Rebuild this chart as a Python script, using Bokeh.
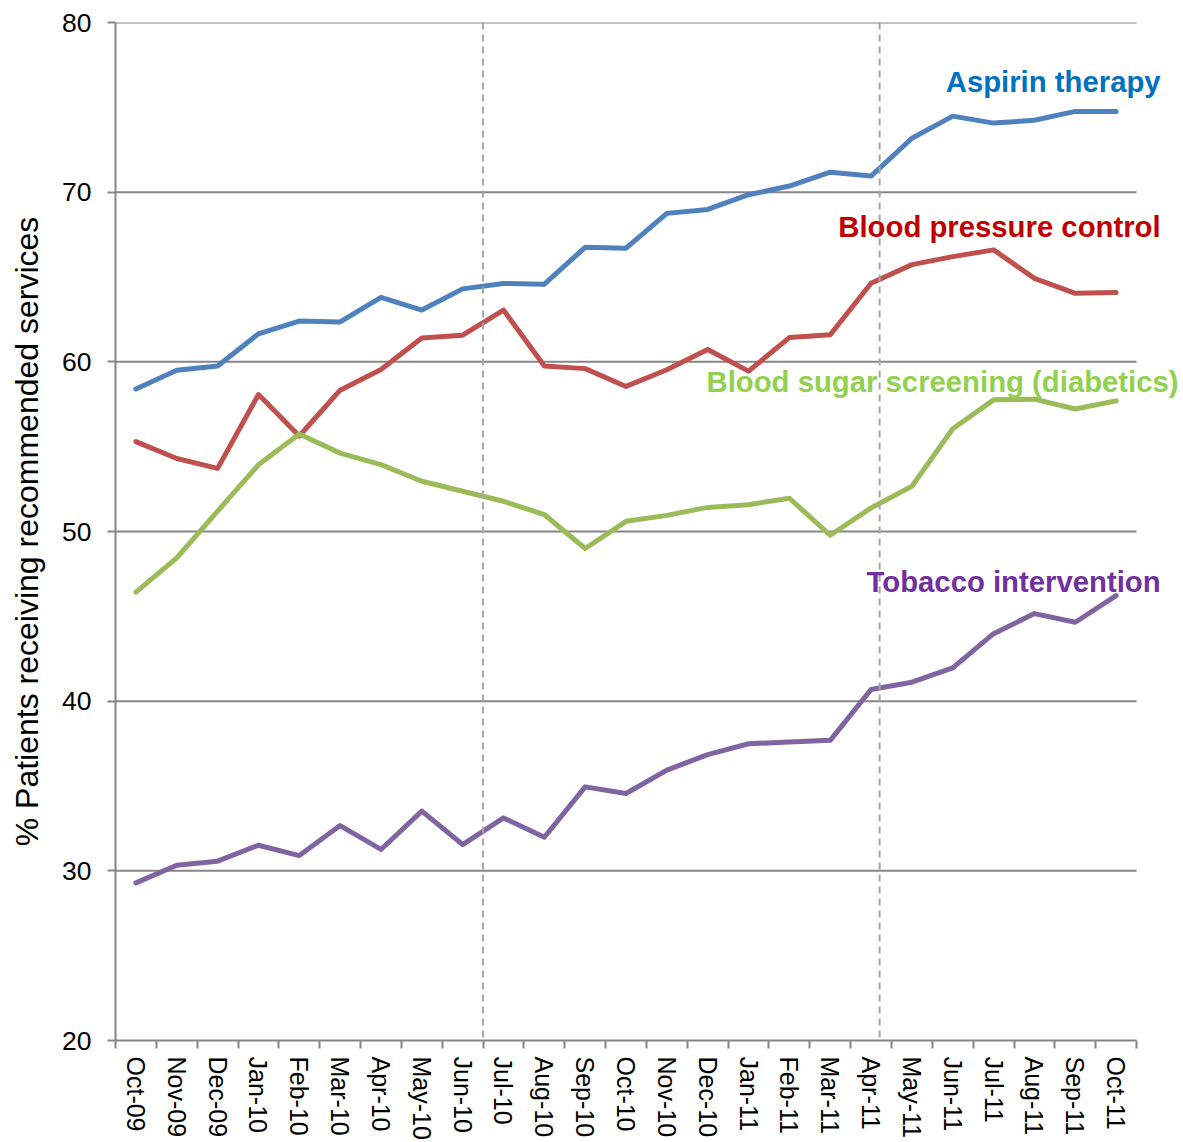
from bokeh.plotting import figure
from bokeh.models import FixedTicker, Span, Label, Range1d
from bokeh.embed import file_html
from bokeh.resources import INLINE

months = ["Oct-09", "Nov-09", "Dec-09", "Jan-10", "Feb-10", "Mar-10", "Apr-10", "May-10",
          "Jun-10", "Jul-10", "Aug-10", "Sep-10", "Oct-10", "Nov-10", "Dec-10", "Jan-11",
          "Feb-11", "Mar-11", "Apr-11", "May-11", "Jun-11", "Jul-11", "Aug-11", "Sep-11", "Oct-11"]

aspirin = [58.4, 59.5, 59.75, 61.65, 62.4, 62.35, 63.8, 63.05, 64.3, 64.62, 64.58, 66.75, 66.7,
           68.75, 68.98, 69.85, 70.36, 71.18, 70.95, 73.18, 74.48, 74.07, 74.24, 74.76, 74.76]
blood_pressure = [55.3, 54.3, 53.72, 58.07, 55.63, 58.33, 59.55, 61.41, 61.57, 63.05, 59.76, 59.6,
                  58.55, 59.53, 60.73, 59.45, 61.43, 61.6, 64.63, 65.73, 66.2, 66.6, 64.92, 64.04, 64.08]
blood_sugar = [46.43, 48.45, 51.2, 53.93, 55.75, 54.62, 53.94, 52.96, 52.37, 51.78, 51.0, 49.0,
               50.6, 50.95, 51.42, 51.58, 51.96, 49.78, 51.39, 52.67, 56.06, 57.76, 57.8, 57.22, 57.7]
tobacco = [29.29, 30.33, 30.57, 31.51, 30.9, 32.67, 31.26, 33.52, 31.55, 33.12, 31.98, 34.95,
           34.56, 35.94, 36.85, 37.49, 37.59, 37.69, 40.69, 41.12, 41.96, 43.98, 45.16, 44.65, 46.22]

series_names = ["Aspirin therapy", "Blood pressure control",
                "Blood sugar screening (diabetics)", "Tobacco intervention"]
y_ticks = [20, 30, 40, 50, 60, 70, 80]
y_label = "% Patients receiving recommended services"
# positions of the dashed reference lines, in month-index units
marker_positions = [9.0, 18.71]

FONT = "Liberation Sans"
GRAY = "#868686"

n = len(months)
xs = [i + 0.5 for i in range(n)]

# frame extends to the right of the last month so the series labels are not clipped
p = figure(width=1183, height=1142, output_backend="svg", toolbar_location=None,
           x_range=Range1d(0, 26.15), y_range=Range1d(20, 80),
           min_border_left=115, min_border_right=0, min_border_top=22, min_border_bottom=100)
p.outline_line_color = None
p.background_fill_color = "white"
p.border_fill_color = "white"

# horizontal grid lines, stopping at the last month boundary
p.xgrid.grid_line_color = None
p.ygrid.grid_line_color = None
grid_y = [t for t in y_ticks if t != y_ticks[0]]
p.segment(x0=[0] * len(grid_y), x1=[n] * len(grid_y), y0=grid_y, y1=grid_y,
          line_color=GRAY, line_width=2)

# y axis
p.yaxis.ticker = FixedTicker(ticks=y_ticks)
p.yaxis.axis_line_color = GRAY
p.yaxis.axis_line_width = 2
p.yaxis.major_tick_line_color = GRAY
p.yaxis.major_tick_line_width = 2
p.yaxis.major_tick_out = 8
p.yaxis.major_tick_in = 0
p.yaxis.minor_tick_line_color = None
p.yaxis.major_label_text_font = FONT
p.yaxis.major_label_text_font_size = "26.5px"
p.yaxis.major_label_text_color = "black"
p.yaxis.major_label_standoff = 16
p.yaxis.axis_label = y_label
p.yaxis.axis_label_text_font = FONT
p.yaxis.axis_label_text_font_size = "32px"
p.yaxis.axis_label_text_font_style = "normal"
p.yaxis.axis_label_text_color = "black"
p.yaxis.axis_label_standoff = 14

# x axis
p.xaxis.bounds = (0, n)
p.xaxis.ticker = FixedTicker(ticks=xs, minor_ticks=list(range(n + 1)))
p.xaxis.major_label_overrides = {x: m for x, m in zip(xs, months)}
p.xaxis.major_label_orientation = "vertical"
p.xaxis.axis_line_color = GRAY
p.xaxis.axis_line_width = 2
p.xaxis.major_tick_line_color = None
p.xaxis.major_tick_out = 0
p.xaxis.major_tick_in = 0
p.xaxis.minor_tick_line_color = GRAY
p.xaxis.minor_tick_line_width = 2
p.xaxis.minor_tick_out = 8
p.xaxis.minor_tick_in = 0
p.xaxis.major_label_text_font = FONT
p.xaxis.major_label_text_font_size = "25px"
p.xaxis.major_label_text_color = "black"
p.xaxis.major_label_standoff = 8

# dashed reference lines
for loc in marker_positions:
    p.add_layout(Span(location=loc, dimension="height", line_color="#A6A6A6",
                      line_width=2, line_dash="7 5"))

line_colors = ["#4F81BD", "#C0504D", "#9BBB59", "#8064A2"]
label_colors = ["#0070C0", "#C00000", "#92D050", "#7030A0"]
label_pos = [(25.59, 76.55), (25.59, 67.95), (26.03, 58.85), (25.59, 47.05)]

for vals, lc in zip([aspirin, blood_pressure, blood_sugar, tobacco], line_colors):
    p.line(xs, vals, line_color=lc, line_width=5, line_cap="round", line_join="round")

for name, tc, (lx, ly) in zip(series_names, label_colors, label_pos):
    p.add_layout(Label(x=lx, y=ly, text=name, text_align="right", text_baseline="middle",
                       text_font=FONT, text_font_size="29.3px", text_font_style="bold",
                       text_color=tc))

open("out.html", "w").write(file_html(p, INLINE))
